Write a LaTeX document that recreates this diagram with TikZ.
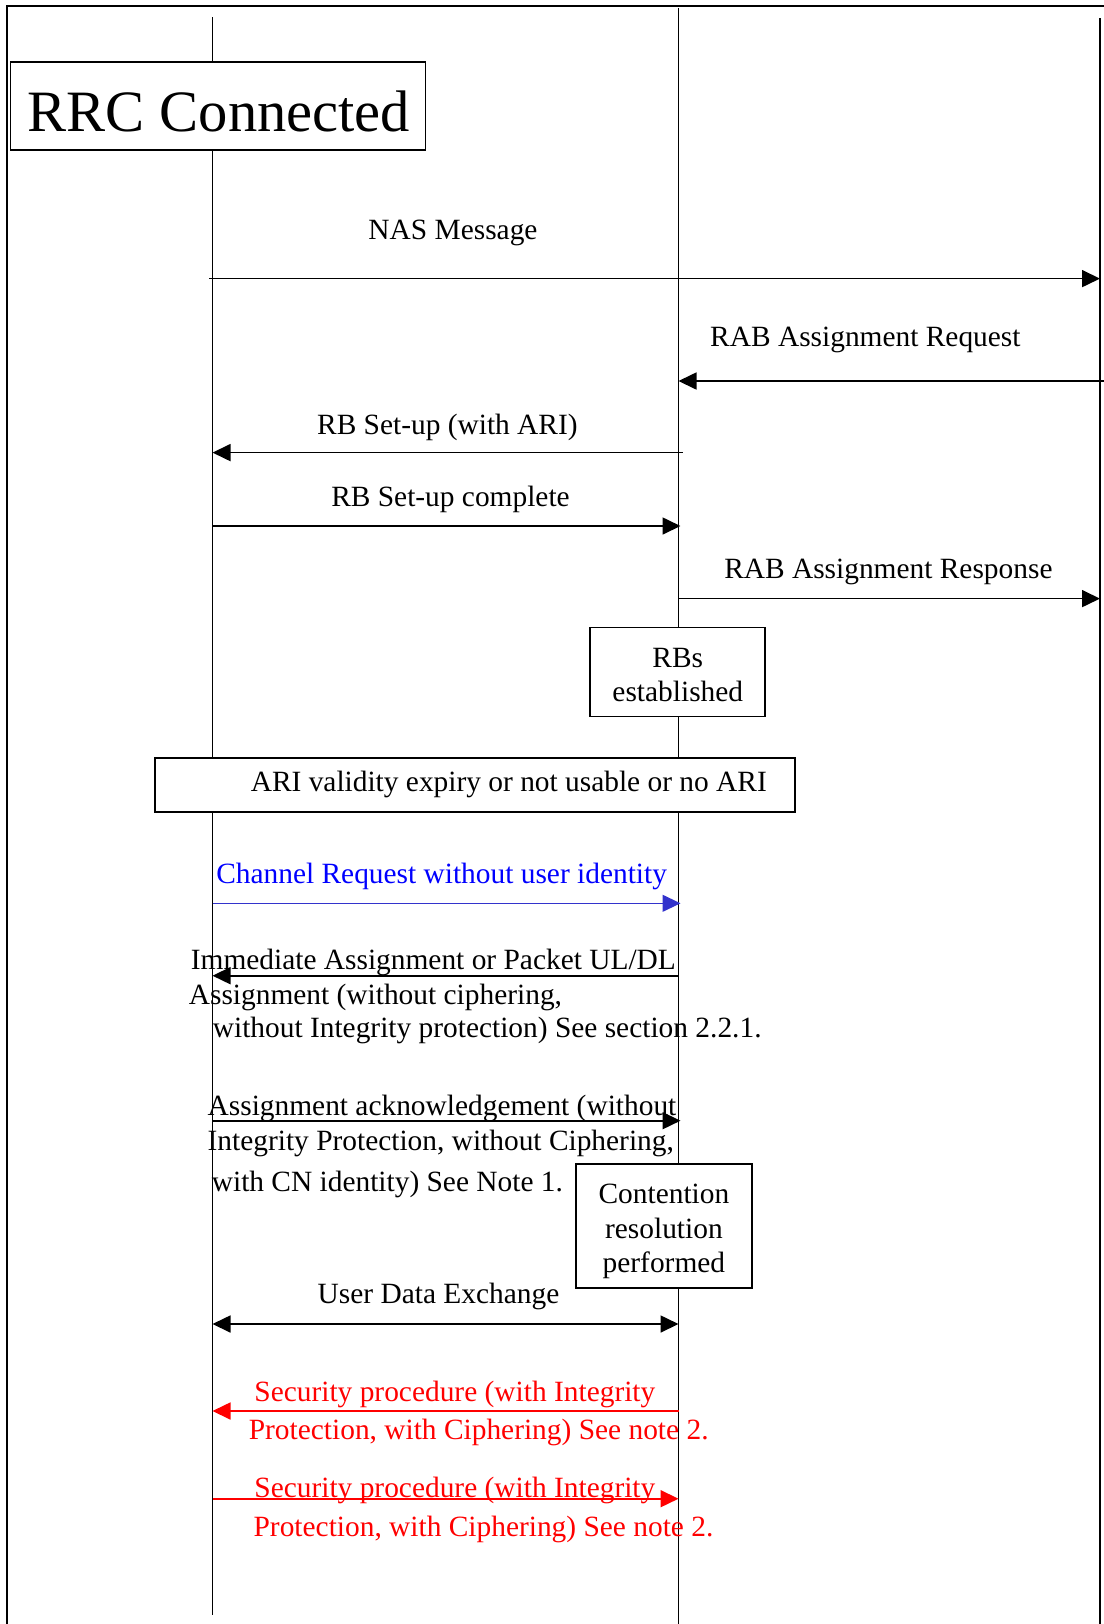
\documentclass[tikz,border=0pt]{standalone}
\usepackage{fontspec}
\setmainfont{Liberation Serif}
\usetikzlibrary{arrows.meta}
\definecolor{reqblue}{RGB}{0,0,255}
\definecolor{reqline}{RGB}{51,51,204}
\definecolor{secred}{RGB}{255,0,0}
\begin{document}
\begin{tikzpicture}[x=0.5pt,y=-0.5pt,line width=0.85pt,
  lbl/.style={inner sep=0pt,font=\fontsize{14.7}{17}\selectfont},
  box/.style={draw,fill=white,inner sep=0pt},
  msg/.style={-{Triangle[length=9pt,width=8.5pt]}},
  both/.style={{Triangle[length=9pt,width=8.5pt]}-{Triangle[length=9pt,width=8.5pt]}}]
\useasboundingbox (0,0) rectangle (1104,1624);

% outer frame (top and left edges)
\coordinate (frTR) at (1104,6);
\coordinate (frTL) at (7.3,6);
\coordinate (frBL) at (7.3,1624);
\draw (frTR) -- (frTL) -- (frBL);

% lifelines
\coordinate (l1) at (212.5,17);
\coordinate (l2) at (678.5,8);
\coordinate (l3) at (1100,18);
\coordinate (l1end) at (212.5,1615);
\coordinate (l2end) at (678.5,1624);
\coordinate (l3end) at (1100,1624);
\coordinate (rim) at (1104,381);
\draw (l1) -- (l1end);
\draw (l2) -- (l2end);
\draw (l3) -- (l3end);

% state box
\node[box,minimum width=207.6pt,minimum height=44pt] (rrc) at (218,106) {};
\node[inner sep=0pt,anchor=base,font=\fontsize{29.3}{34}\selectfont] (rrct) at (219,131.5) {RRC Connected};

% messages
\node[lbl,anchor=base] (nas) at (453,239) {NAS Message};
\draw[msg] ([xshift=-1.7pt]l1 |- 0,278.6) -- (l3 |- 0,278.6);

\node[lbl,anchor=base] (rabreq) at (865.4,346.7) {RAB Assignment Request};
\draw[msg] (rim) -- (l2 |- rim);

\node[lbl,anchor=base] (rbsetup) at (447.4,434) {RB Set-up (with ARI)};
\draw[msg] ([xshift=2pt]l2 |- 0,452.6) -- (l1 |- 0,452.6);

\node[lbl,anchor=base] (rbcomp) at (450.5,506) {RB Set-up complete};
\draw[msg] (l1 |- 0,526) -- ([xshift=1pt]l2 |- 0,526);

\node[lbl,anchor=base] (rabresp) at (888.4,578.3) {RAB Assignment Response};
\draw[msg] (l2 |- 0,598.6) -- (l3 |- 0,598.6);

\node[box,minimum width=87.5pt,minimum height=44.5pt] (rbs) at (677.8,672.1) {};
\node[lbl,align=center] (rbst) at (677.8,675.2) {RBs\\established};

\node[box,minimum width=320pt,minimum height=27pt] (ari) at (475,785.3) {};
\node[lbl,anchor=base] (arit) at (508.8,791.7) {ARI validity expiry or not usable or no ARI};

% random access without user identity
\node[lbl,anchor=base west,text=reqblue] (chreq) at (215.4,883.5) {Channel Request without user identity};
\draw[msg,draw=reqline,fill=reqline,line width=0.6pt] (l1 |- 0,903.3) -- ([xshift=1pt]l2 |- 0,903.3);

\node[lbl,anchor=base west] (ia1) at (190,969) {Immediate Assignment or Packet UL/DL};
\node[lbl,anchor=base west] (ia2) at (188,1004) {Assignment (without ciphering,};
\node[lbl,anchor=base west] (ia3) at (212,1037) {without Integrity protection) See section 2.2.1.};
\draw[msg] (l2 |- 0,975.7) -- (l1 |- 0,975.7);

\node[lbl,anchor=base west] (ack1) at (206.8,1115) {Assignment acknowledgement (without};
\node[lbl,anchor=base west] (ack2) at (206.8,1150) {Integrity Protection, without Ciphering,};
\node[lbl,anchor=base west] (ack3) at (211,1191.7) {with CN identity) See Note 1.};
\draw[msg] (l1 |- 0,1120.7) -- ([xshift=1pt]l2 |- 0,1120.7);

\node[box,minimum width=87.85pt,minimum height=62pt] (cont) at (663.9,1226.3) {};
\node[inner sep=0pt,align=center,font=\fontsize{14.7}{17.3}\selectfont] (contt) at (663.9,1231.5) {Contention\\resolution\\performed};

\node[lbl,anchor=base] (ude) at (438.5,1303) {User Data Exchange};
\draw[both] (l1 |- 0,1324) -- (l2 |- 0,1324);

% security procedures
\begin{scope}[text=secred,draw=secred,fill=secred]
\node[lbl,anchor=base west] (sec1a) at (253.6,1401.7) {Security procedure (with Integrity};
\node[lbl,anchor=base west] (sec1b) at (248,1439) {Protection, with Ciphering) See note 2.};
\draw[msg] (l2 |- 0,1411) -- (l1 |- 0,1411);
\node[lbl,anchor=base west] (sec2a) at (253.6,1497.3) {Security procedure (with Integrity};
\node[lbl,anchor=base west] (sec2b) at (252.8,1536) {Protection, with Ciphering) See note 2.};
\draw[msg] (l1 |- 0,1498.7) -- (l2 |- 0,1498.7);
\end{scope}
\end{tikzpicture}
\end{document}
